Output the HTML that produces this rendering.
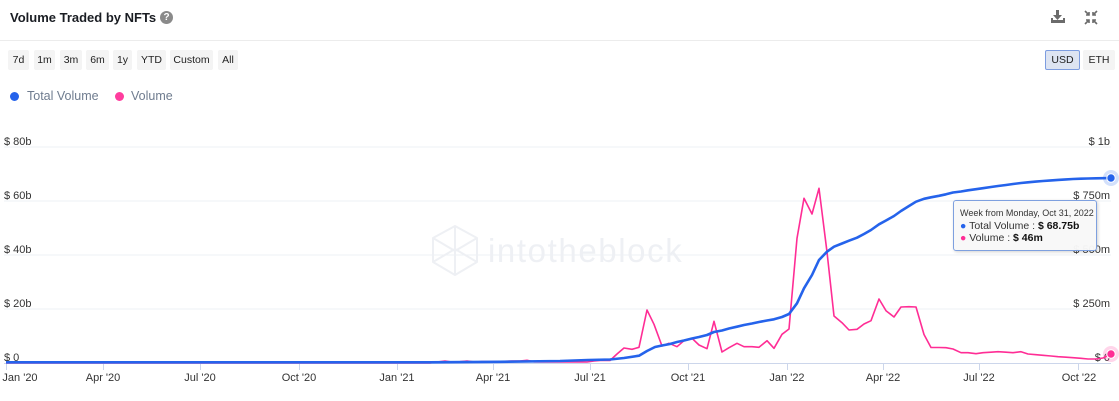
<!DOCTYPE html>
<html><head><meta charset="utf-8"><style>
*{margin:0;padding:0;box-sizing:border-box}
body{width:1119px;height:401px;background:#fff;font-family:"Liberation Sans",Arial,sans-serif;position:relative;overflow:hidden;color:#222}
.title{position:absolute;left:10px;top:10px;font-size:13px;font-weight:bold;color:#1a1d23;white-space:nowrap}
.help{position:absolute;left:160px;top:11px;width:13px;height:13px;border-radius:50%;background:#8a8a8a;color:#fff;font-size:10px;font-weight:bold;text-align:center;line-height:13px}
.sep{position:absolute;left:0;top:40px;width:1119px;height:1px;background:#ececec}
.btn{position:absolute;top:50px;height:20px;background:#f4f4f4;font-size:10.5px;color:#222;text-align:center;line-height:20px;border-radius:2px}
.usd{background:#dde4f2;border:1px solid #7d9de0;line-height:18px}
.leg{position:absolute;top:89px;font-size:12.5px;color:#6f7c8f;white-space:nowrap}
.dot{position:absolute;width:9px;height:9px;border-radius:50%}
svg{position:absolute;left:0;top:0}
.tip{position:absolute;left:953px;top:200px;width:144px;height:51px;background:rgba(248,248,248,0.97);border:1px solid #7ea0df;border-radius:3px;box-shadow:1px 1px 3px rgba(0,0,0,0.18);font-size:9px;color:#333;padding:6px 0 0 6px;line-height:12.5px;white-space:nowrap}
.tip b{color:#111}
.tip .l{font-size:10.5px}
</style></head><body>
<div class="title">Volume Traded by NFTs</div>
<div class="help">?</div>
<svg width="1119" height="401" style="z-index:0">
<g fill="#6b6b6b">
<rect x="1056" y="10" width="3" height="7"/>
<polygon points="1053,15 1062,15 1057.5,20"/>
<rect x="1051" y="20" width="14" height="3"/>
<rect x="1051" y="18" width="2" height="4"/><rect x="1063" y="18" width="2" height="4"/>
</g>
<g stroke="#6b6b6b" stroke-width="1.6" fill="none">
<line x1="1085" y1="11" x2="1089" y2="15"/><polyline points="1086,15 1089,15 1089,12"/>
<line x1="1097" y1="11" x2="1093" y2="15"/><polyline points="1096,15 1093,15 1093,12"/>
<line x1="1085" y1="24" x2="1089" y2="20"/><polyline points="1086,20 1089,20 1089,23"/>
<line x1="1097" y1="24" x2="1093" y2="20"/><polyline points="1096,20 1093,20 1093,23"/>
</g>
<g stroke="#eef1f5" stroke-width="1">
<line x1="4" y1="147" x2="1111" y2="147"/>
<line x1="4" y1="201" x2="1111" y2="201"/>
<line x1="4" y1="255" x2="1111" y2="255"/>
<line x1="4" y1="309" x2="1111" y2="309"/>
</g>
<g stroke="#eef0f4" stroke-width="2" fill="none" stroke-linejoin="round">
<polygon points="455,226 477,238 477,262 455,275 433,262 433,238"/>
<polyline points="433,238 455,251 477,238"/>
<polyline points="433,262 455,249 477,262"/>
<line x1="455" y1="226" x2="455" y2="275"/>
</g>
<text x="488" y="262" font-family="Liberation Sans,Arial,sans-serif" font-size="33" fill="#eef0f4" letter-spacing="1.6">intotheblock</text>
<line x1="4" y1="363.5" x2="1111" y2="363.5" stroke="#ccd6eb" stroke-width="1"/>
<g stroke="#ccd6eb" stroke-width="1">
<line x1="6.5" y1="363" x2="6.5" y2="370"/>
<line x1="103.5" y1="363" x2="103.5" y2="370"/>
<line x1="200.5" y1="363" x2="200.5" y2="370"/>
<line x1="299.5" y1="363" x2="299.5" y2="370"/>
<line x1="397.5" y1="363" x2="397.5" y2="370"/>
<line x1="493.5" y1="363" x2="493.5" y2="370"/>
<line x1="590.5" y1="363" x2="590.5" y2="370"/>
<line x1="688.5" y1="363" x2="688.5" y2="370"/>
<line x1="787.5" y1="363" x2="787.5" y2="370"/>
<line x1="883.5" y1="363" x2="883.5" y2="370"/>
<line x1="979.5" y1="363" x2="979.5" y2="370"/>
<line x1="1078.5" y1="363" x2="1078.5" y2="370"/>
</g>
<g font-family="Liberation Sans,Arial,sans-serif" font-size="11" fill="#333" text-anchor="middle">
<text x="20" y="381">Jan '20</text>
<text x="103" y="381">Apr '20</text>
<text x="200" y="381">Jul '20</text>
<text x="299" y="381">Oct '20</text>
<text x="397" y="381">Jan '21</text>
<text x="493" y="381">Apr '21</text>
<text x="590" y="381">Jul '21</text>
<text x="688" y="381">Oct '21</text>
<text x="787" y="381">Jan '22</text>
<text x="883" y="381">Apr '22</text>
<text x="979" y="381">Jul '22</text>
<text x="1079" y="381">Oct '22</text>
</g>
<g font-family="Liberation Sans,Arial,sans-serif" font-size="11" fill="#333">
<text x="4" y="145">$ 80b</text>
<text x="4" y="199">$ 60b</text>
<text x="4" y="253">$ 40b</text>
<text x="4" y="307">$ 20b</text>
<text x="4" y="361">$ 0</text>
</g>
<g font-family="Liberation Sans,Arial,sans-serif" font-size="11" fill="#333" text-anchor="end">
<text x="1110" y="145">$ 1b</text>
<text x="1110" y="199">$ 750m</text>
<text x="1110" y="253">$ 500m</text>
<text x="1110" y="307">$ 250m</text>
<text x="1110" y="361">$ 0</text>
</g>
<polyline fill="none" stroke="#ff2d95" stroke-width="1.6" stroke-linejoin="round" points="6,363 430,363 437,362 445,361 452,362 460,361.7 467,361 475,362 482,361.5 490,361.7 497,361.5 505,361.3 512,361 520,361 527,360.3 534,361.8 542,362 549,362 557,362 564,362 572,362 579,361.8 587,362 594,361 602,360.3 610,360.5 617,354 624,348 632,349.3 639,347.3 647,310 654,324.3 662,346 669,343.3 677,346.7 684,340.7 692,338.3 699,345 707,348.7 714,321.3 722,352 729,347.7 737,343.3 744,346.7 752,346.7 759,347.3 767,340.7 774,348.3 782,334.3 789,329 797,238.3 804,198.3 812,214 819,188.3 827,252 834,316 842,322.7 849,330 857,329.3 864,324 871,320.7 879,299 886,310.7 894,317 901,307 909,306.7 916,307 924,334.5 931,347.5 939,347.5 946,347.7 953,349 961,352.7 968,352.7 976,353.7 983,352.7 991,352.2 998,351.7 1006,352.2 1013,352.7 1021,351.7 1028,354 1036,354.7 1043,355.3 1051,356 1058,356.7 1066,357.2 1073,357.7 1081,358.3 1088,359 1096,359 1103,358 1111,354"/>
<polyline fill="none" stroke="#2563eb" stroke-width="2.6" stroke-linejoin="round" points="6,362.3 430,362.3 500,361.8 560,361 588,360 610,359.5 624,358 639,355.7 647,351 655,347 662,345.5 670,344 677,342 684,340.5 692,338.5 699,337 707,335 714,332 722,330.5 729,328.5 737,326.7 744,325 752,323.5 759,322 767,320.5 774,319.3 782,317 789,314 797,303.3 804,288.3 812,275 819,260 827,251.7 834,246.7 842,243.5 849,240.7 857,237.7 864,234 871,230 879,224.3 886,220.5 894,216 901,211 909,206 916,201.7 924,198.8 931,197.3 939,195.8 946,194.3 953,192.5 961,191.5 968,190.3 976,189.2 983,188.2 991,187 998,186 1006,185 1013,184 1021,183 1028,182.3 1036,181.6 1043,181 1051,180.4 1058,179.9 1066,179.4 1073,179 1081,178.7 1088,178.5 1096,178.3 1103,178.2 1111,178"/>
<circle cx="1111" cy="178" r="8" fill="#2563eb" fill-opacity="0.2"/>
<circle cx="1111" cy="178" r="4.2" fill="#2563eb" stroke="#fff" stroke-width="1"/>
<circle cx="1111" cy="354" r="8" fill="#ff2d95" fill-opacity="0.2"/>
<circle cx="1111" cy="354" r="4.2" fill="#ff2d95" stroke="#fff" stroke-width="1"/>
</svg>
<div class="sep"></div>
<div class="btn" style="left:8px;width:21px">7d</div>
<div class="btn" style="left:34px;width:21px">1m</div>
<div class="btn" style="left:60px;width:22px">3m</div>
<div class="btn" style="left:86px;width:23px">6m</div>
<div class="btn" style="left:113px;width:19px">1y</div>
<div class="btn" style="left:137px;width:29px">YTD</div>
<div class="btn" style="left:170px;width:43px">Custom</div>
<div class="btn" style="left:218px;width:20px">All</div>
<div class="btn usd" style="left:1045px;width:35px">USD</div>
<div class="btn" style="left:1083px;width:32px">ETH</div>
<div class="dot" style="left:10px;top:92px;background:#2563eb"></div>
<div class="leg" style="left:27px">Total Volume</div>
<div class="dot" style="left:115px;top:92px;background:#ff3d9e"></div>
<div class="leg" style="left:131px">Volume</div>
<div class="tip">Week from Monday, Oct 31, 2022<br><span class="l"><span style="color:#2563eb">●</span> Total Volume : <b>$ 68.75b</b></span><br><span class="l"><span style="color:#ff2d95">●</span> Volume : <b>$ 46m</b></span></div>
</body></html>
